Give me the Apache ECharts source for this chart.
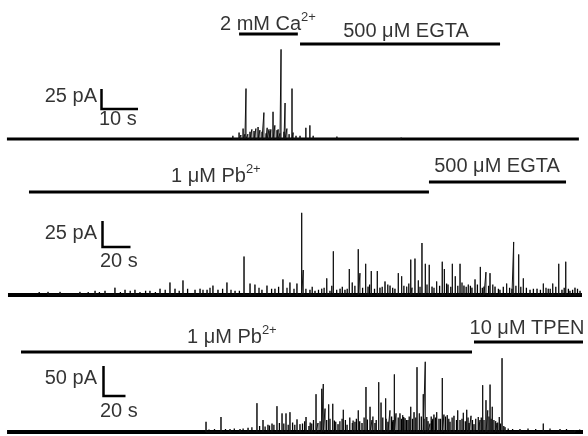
<!DOCTYPE html>
<html><head><meta charset="utf-8">
<script src="https://cdn.jsdelivr.net/npm/echarts@6/dist/echarts.min.js"></script>
<style>html,body{margin:0;padding:0;background:#fff}#c{width:588px;height:436px}</style>
</head><body><div id="c"></div>
<script>
// ---------------- DATA (time in s, current in pA) ----------------
const trace1Record = [1.9, 158.6];
const trace1Spikes = [[63.8,4],[65.5,8],[66.0,5],[66.6,13],[67.1,6],[67.4,63],[67.9,6],[68.5,9],[69.0,12],[69.6,10],[70.1,13],[70.7,15],[71.2,11],[71.8,9],[72.3,33],[72.9,7],[73.2,14],[73.7,12],[74.0,10],[74.2,12],[74.8,34],[75.3,17],[75.9,11],[76.2,12],[76.7,7],[77.0,112],[77.8,9],[78.1,45],[78.6,13],[79.2,6],[80.0,63],[80.3,8],[81.1,4],[82.2,4],[83.8,14],[84.9,17],[85.8,4],[92.3,3],[109.9,2]];
const trace1Applications = [["2 mM Ca","2+",65.5,81.6],["500 μM EGTA","",82.2,137.0]];
const trace1Scale = [10, 25, "10 s", "25 pA"];

const trace2Record = [5.7, 415.7];
const trace2Spikes = [[34.3,3],[42.9,3],[57.1,3],[67.9,4],[75,4],[82.1,7],[89.3,5],[96.4,5],[107.1,4],[114.3,6],[121.4,12],[125,6],[130.7,14],[139.3,5],[142.9,6],[147.9,5],[152.1,9],[155.7,5],[162.1,12],[167.9,4],[174.3,37],[178.6,11],[182.1,10],[187.1,5],[190.7,9],[196.4,6],[202.1,15],[207.1,12],[212.1,11],[215.5,79],[216.6,24],[221.4,5],[225,4],[229.8,6],[233.4,16],[235.7,4],[238.1,42],[242.9,6],[246.4,5],[249.5,25],[251.6,12],[255.9,44],[257.1,21],[261.2,30],[262.9,8],[265.2,23],[269.5,23],[271.4,7],[275,13],[278.6,9],[282.1,6],[284.5,21],[286.9,18],[290.5,8],[293.4,34],[294.3,7],[296.4,35],[298.8,14],[301.4,50],[303.8,30],[306.6,29],[308.6,8],[311.9,13],[315.9,32],[317.4,25],[320,10],[323.1,30],[325.2,18],[328.6,30],[331.4,9],[334.5,10],[337.1,7],[339.3,15],[343.1,27],[345.7,8],[347.1,22],[350,21],[353.6,8],[357.1,5],[361.9,11],[365.7,6],[366.9,51],[370.5,39],[373.8,16],[378.6,5],[383.6,6],[388.1,11],[391.6,6],[394.8,11],[399.1,30],[401.4,5],[404.1,32],[407.1,4],[410.7,7],[414.3,4]];
const trace2SmallEvents = [[20,2],[28,3],[50,2],[63,3],[71,3],[86,3],[93,4],[100,3],[104,4],[111,3],[118,5],[128,4],[134,6],[145,5],[150,7],[159,6],[165,5],[171,4],[185,7],[194,6],[199,8],[205,7],[210,6],[218.5,6],[223,8],[227.5,5],[231.5,7],[237,9],[240.5,5],[244.5,8],[248,6],[253.5,9],[259,7],[264,10],[267.5,6],[273,8],[277,10],[280.5,7],[288.5,9],[292,11],[300,8],[305,10],[310,7],[314,9],[319,11],[322,8],[327,9],[330,12],[333,8],[336,9],[341,10],[344.5,7],[349,9],[352,10],[356,6],[359.5,8],[364,7],[368.5,9],[372,8],[376,7],[381,6],[386,5],[390,7],[393,6],[397,8],[403,7],[406,6],[409,5],[412.5,6]];
const trace2Applications = [["1 μM Pb","2+",20.7,306.4],["500 μM EGTA","",306.4,404.3]];
const trace2Scale = [20, 25, "20 s", "25 pA"];

const trace3Record = [6.4, 530];
const trace3Spikes = [[187.3,17],[200.9,25],[209.1,5],[218.2,5],[225.5,7],[233.6,48],[239.1,20],[243.6,12],[247.3,14],[251.8,43],[256.4,31],[260,31],[263.6,33],[270,21],[272.7,13],[278.2,25],[280.9,10],[283.4,14],[287.3,63],[289.1,15],[292.5,72],[293.9,80],[295.5,39],[298.8,46],[302.5,47],[305.2,17],[307.3,13],[312.1,37],[315.5,12],[320.3,15],[322.7,17],[325.7,36],[329.1,15],[332.7,75],[336.4,42],[338.2,20],[340.9,15],[344.3,83],[346.4,49],[350.6,56],[352.7,17],[354.5,36],[358.5,96],[360,31],[363.6,31],[366.1,28],[368.2,23],[370.9,20],[373.4,42],[376.4,33],[379.1,108],[381.2,31],[384.8,63],[386.6,117],[389.1,18],[390.9,14],[394.5,29],[397,33],[399.1,22],[402.1,90],[403.6,29],[406.6,28],[409.1,17],[412.7,27],[416.1,36],[418.2,20],[421.2,32],[424.3,37],[426.4,15],[428.2,27],[430.9,13],[434.8,25],[436.4,20],[438.8,78],[441.8,53],[443.4,36],[445.5,79],[447.5,42],[450.6,18],[451.8,15],[453.9,25],[456.4,123],[459.1,8],[472.7,5],[493.9,14],[509.1,5],[522.7,3]];
const trace3SmallEvents = [[190,4],[195,5],[205,5],[213,6],[221,6],[229,8],[236,10],[241,9],[245,11],[249,12],[254,15],[258,14],[262,12],[266,16],[268,12],[275,14],[277,18],[282,16],[285,20],[291,18],[297,20],[300,22],[304,19],[309,18],[311,22],[314,20],[318,24],[321,19],[324,22],[327,18],[331,24],[334,21],[339,26],[342,20],[348,24],[351,22],[356,26],[357.5,20],[362,24],[365,22],[367,25],[369.5,20],[372,26],[375,22],[378,24],[383,26],[385.5,22],[388,25],[392,26],[393.5,22],[396,24],[400.5,22],[405,26],[408,22],[411,24],[415,20],[420,22],[423,18],[425.5,24],[429.5,20],[432.5,22],[435.5,16],[437.5,24],[440,20],[444.5,26],[446.5,22],[449,20],[452.5,16],[455,14],[458,10],[462,6],[466,5],[480,6],[487,5],[500,6],[515,5],[527,4]];
const trace3Applications = [["1 μM Pb","2+",19.1,429.1],["10 μM TPEN","",430.9,530]];
const trace3Scale = [20, 50, "20 s", "50 pA"];

// ---------------- LAYOUT (pixels) ----------------
const W = 588;
const panels = [
  {rec:trace1Record, spikes:trace1Spikes, small:[], apps:trace1Applications, scale:trace1Scale,
   top:0, height:150, pps:3.65, ppa:0.8, base:139, baseW:3,
   barY:[34,44], labelX:[220,406], labelY:[24,31], labelAlign:['left','center'],
   scaleX:101.5, scaleY:109, pALabel:[97,96], sLabel:[99,119]},
  {rec:trace2Record, spikes:trace2Spikes, small:trace2SmallEvents, apps:trace2Applications, scale:trace2Scale,
   top:150, height:150, pps:1.4, ppa:1.04, base:295, baseW:4,
   barY:[192,182], labelX:[171,497], labelY:[176,166], labelAlign:['left','center'],
   scaleX:102.5, scaleY:247, pALabel:[97,233], sLabel:[100,261]},
  {rec:trace3Record, spikes:trace3Spikes, small:trace3SmallEvents, apps:trace3Applications, scale:trace3Scale,
   top:300, height:136, pps:1.1, ppa:0.6, base:432, baseW:4,
   barY:[352,342], labelX:[187,527], labelY:[337,328], labelAlign:['left','center'],
   scaleX:103.5, scaleY:396, pALabel:[97,378], sLabel:[100,411]}
];
const FONT = "'Liberation Sans', Arial, Helvetica, sans-serif";

const grids = [], xAxes = [], yAxes = [], series = [];
panels.forEach((p, i) => {
  const toT = x => x / p.pps;
  const toA = y => (p.base - y) / p.ppa;
  grids.push({left:0, right:0, top:p.top, height:p.height, containLabel:false});
  xAxes.push({type:'value', gridIndex:i, min:0, max:W / p.pps, show:false});
  yAxes.push({type:'value', gridIndex:i, min:-(p.top + p.height - p.base) / p.ppa, max:(p.base - p.top) / p.ppa, show:false});
  const common = {xAxisIndex:i, yAxisIndex:i, type:'line', symbol:'none', silent:true, animation:false};
  // baseline
  series.push(Object.assign({}, common, {data:[[p.rec[0],0],[p.rec[1],0]], lineStyle:{color:'#000', width:p.baseW}}));
  // small events (noise band)
  const nd = [];
  p.small.forEach(s => { nd.push([s[0],0],[s[0],s[1]],[s[0],0]); });
  if (nd.length) series.push(Object.assign({}, common, {data:nd, lineStyle:{color:'#000', width:1.3}}));
  // spikes
  const sd = [];
  p.spikes.forEach(s => { sd.push([s[0],0],[s[0],s[1]],[s[0],0]); });
  series.push(Object.assign({}, common, {data:sd, lineStyle:{color:'#111', width:1}}));
  // application bars
  p.apps.forEach((a, k) => {
    const lvl = toA(p.barY[k]);
    series.push(Object.assign({}, common, {data:[[a[2],lvl],[a[3],lvl]], lineStyle:{color:'#000', width:3}}));
  });
  // scale bar
  const t0 = toT(p.scaleX), a0 = toA(p.scaleY);
  series.push(Object.assign({}, common, {data:[[t0, a0 + p.scale[1]],[t0, a0],[t0 + p.scale[0], a0]], lineStyle:{color:'#000', width:2.5, cap:'butt', join:'miter'}}));
  // labels
  const labs = [];
  p.apps.forEach((a, k) => {
    labs.push({value:[toT(p.labelX[k]), toA(p.labelY[k])],
      label:{align:p.labelAlign[k], formatter: a[1] ? '{m|' + a[0] + '}{s|' + a[1] + '}' : '{m|' + a[0] + '}'}});
  });
  labs.push({value:[toT(p.pALabel[0]), toA(p.pALabel[1])], label:{align:'right', formatter:'{m|' + p.scale[3] + '}'}});
  labs.push({value:[toT(p.sLabel[0]), toA(p.sLabel[1])], label:{align:'left', formatter:'{m|' + p.scale[2] + '}'}});
  series.push({type:'scatter', xAxisIndex:i, yAxisIndex:i, silent:true, animation:false,
    symbolSize:1, itemStyle:{color:'rgba(0,0,0,0)'}, data:labs,
    label:{show:true, position:'inside', verticalAlign:'middle', color:'#000',
      rich:{m:{fontSize:20, lineHeight:26, fontFamily:FONT, color:'#000'},
            s:{fontSize:13, lineHeight:14, verticalAlign:'top', fontFamily:FONT, color:'#000'}}}});
});

const chart = echarts.init(document.getElementById('c'), null, {renderer:'canvas'});
chart.setOption({animation:false, backgroundColor:'#fff', grid:grids, xAxis:xAxes, yAxis:yAxes, series:series});
</script></body></html>
